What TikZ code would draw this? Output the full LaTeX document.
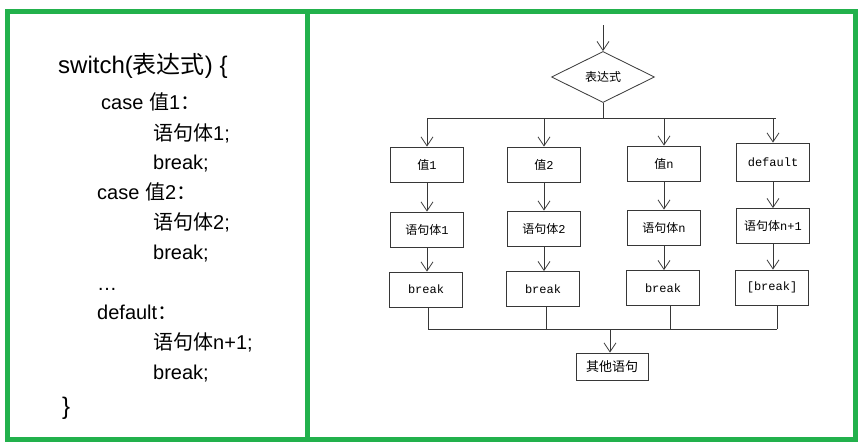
\documentclass[tikz,border=0pt]{standalone}
\usepackage{fontspec}
\setmainfont{Liberation Sans}
\newfontfamily\cjk{Noto Sans CJK SC}
\newfontfamily\mono{Liberation Mono}
\usetikzlibrary{shapes.geometric,arrows.meta}
\definecolor{framegreen}{RGB}{34,177,76}
\definecolor{ln}{RGB}{55,55,55}
\begin{document}
\begin{tikzpicture}[x=1pt,y=-1pt,
  code/.style={anchor=base west, inner sep=0pt, font=\fontsize{20}{20}\selectfont},
  box/.style={draw=ln, line width=0.8pt, minimum width=73pt, minimum height=35pt, inner sep=0pt, font=\fontsize{12}{12}\selectfont},
  conn/.style={draw=ln, line width=0.8pt},
  arr/.style={conn, -{Straight Barb[length=9pt,width=12pt,line width=0.8pt]}}]
\useasboundingbox (0,0) rectangle (863,447);
\fill[white] (0,0) rectangle (863,447);
% frames
\draw[framegreen, line width=5pt] (7.5,11.5) rectangle (855.5,439.5);
\draw[framegreen, line width=5pt] (307,11.5) -- (307,439.5);
% code text
\node[code, font=\fontsize{24}{24}\selectfont] (l0) at (58,73) {switch({\cjk 表达式}) \{};
\node[code] (l1) at (101,109) {case {\cjk 值}1{\cjk ：}};
\node[code] (l2) at (153,140) {{\cjk 语句体}1;};
\node[code] (l3) at (153,169) {break;};
\node[code] (l4) at (97,199) {case {\cjk 值}2{\cjk ：}};
\node[code] (l5) at (153,229) {{\cjk 语句体}2;};
\node[code] (l6) at (153,259) {break;};
\node[code] (l7) at (97,290) {…};
\node[code] (l8) at (97,319) {default{\cjk ：}};
\node[code] (l9) at (153,349) {{\cjk 语句体}n+1;};
\node[code] (l10) at (153,379) {break;};
\node[code, font=\fontsize{24}{24}\selectfont] (l11) at (62,414) {\}};
% flowchart
\coordinate (top) at (603,25);
\node[diamond, draw=ln, line width=0.8pt, minimum width=103pt, minimum height=51pt, inner sep=0pt, font=\fontsize{12}{12}\selectfont] (d) at (603,77) {\cjk 表达式};
\draw[arr] (top) -- (d.north);
\coordinate (split) at (603,118);
\coordinate (b1) at (427,118);
\coordinate (b2) at (544,118);
\coordinate (b3) at (664,118);
\coordinate (b4) at (773,118);
\draw[conn] (d.south) -- (split);
\draw[conn] (b1) -- ([xshift=3pt]b4);
% row 1
\node[box] (v1) at (427,164.5) {{\cjk 值}{\mono 1}};
\node[box] (v2) at (544,164.5) {{\cjk 值}{\mono 2}};
\node[box] (v3) at (664,163.5) {{\cjk 值}{\mono n}};
\node[box, minimum height=38pt] (v4) at (773,162) {\mono default};
% row 2
\node[box] (s1) at (427,229.5) {{\cjk 语句体}{\mono 1}};
\node[box] (s2) at (544,228.5) {{\cjk 语句体}{\mono 2}};
\node[box] (s3) at (664,227.5) {{\cjk 语句体}{\mono n}};
\node[box] (s4) at (773,226) {{\cjk 语句体}{\mono n+1}};
% row 3
\node[box] (r1) at (426,289.5) {\mono break};
\node[box] (r2) at (543,289) {\mono break};
\node[box] (r3) at (663,288) {\mono break};
\node[box] (r4) at (772,287.5) {\mono [break]};
% arrows
\draw[arr] (b1) -- (v1.north);
\draw[arr] (b2) -- (v2.north);
\draw[arr] (b3) -- (v3.north);
\draw[arr] (b4) -- (v4.north);
\draw[arr] (v1) -- (s1);
\draw[arr] (v2) -- (s2);
\draw[arr] (v3) -- (s3);
\draw[arr] (v4) -- (s4);
\draw[arr] (s1) -- (s1 |- r1.north);
\draw[arr] (s2) -- (s2 |- r2.north);
\draw[arr] (s3) -- (s3 |- r3.north);
\draw[arr] (s4) -- (s4 |- r4.north);
% merge
\coordinate (m1) at (428,329);
\coordinate (m2) at (546,329);
\coordinate (m3) at (670,329);
\coordinate (m4) at (777,329);
\draw[conn] (r1.south -| m1) -- (m1);
\draw[conn] (r2.south -| m2) -- (m2);
\draw[conn] (r3.south -| m3) -- (m3);
\draw[conn] (r4.south -| m4) -- (m4);
\draw[conn] (m1) -- (m4);
\node[box, minimum width=72pt, minimum height=27pt, font=\fontsize{13}{13}\selectfont] (o) at (612,366.5) {\cjk 其他语句};
\coordinate (join) at (610,329);
\draw[arr] (join) -- (join |- o.north);
\end{tikzpicture}
\end{document}
